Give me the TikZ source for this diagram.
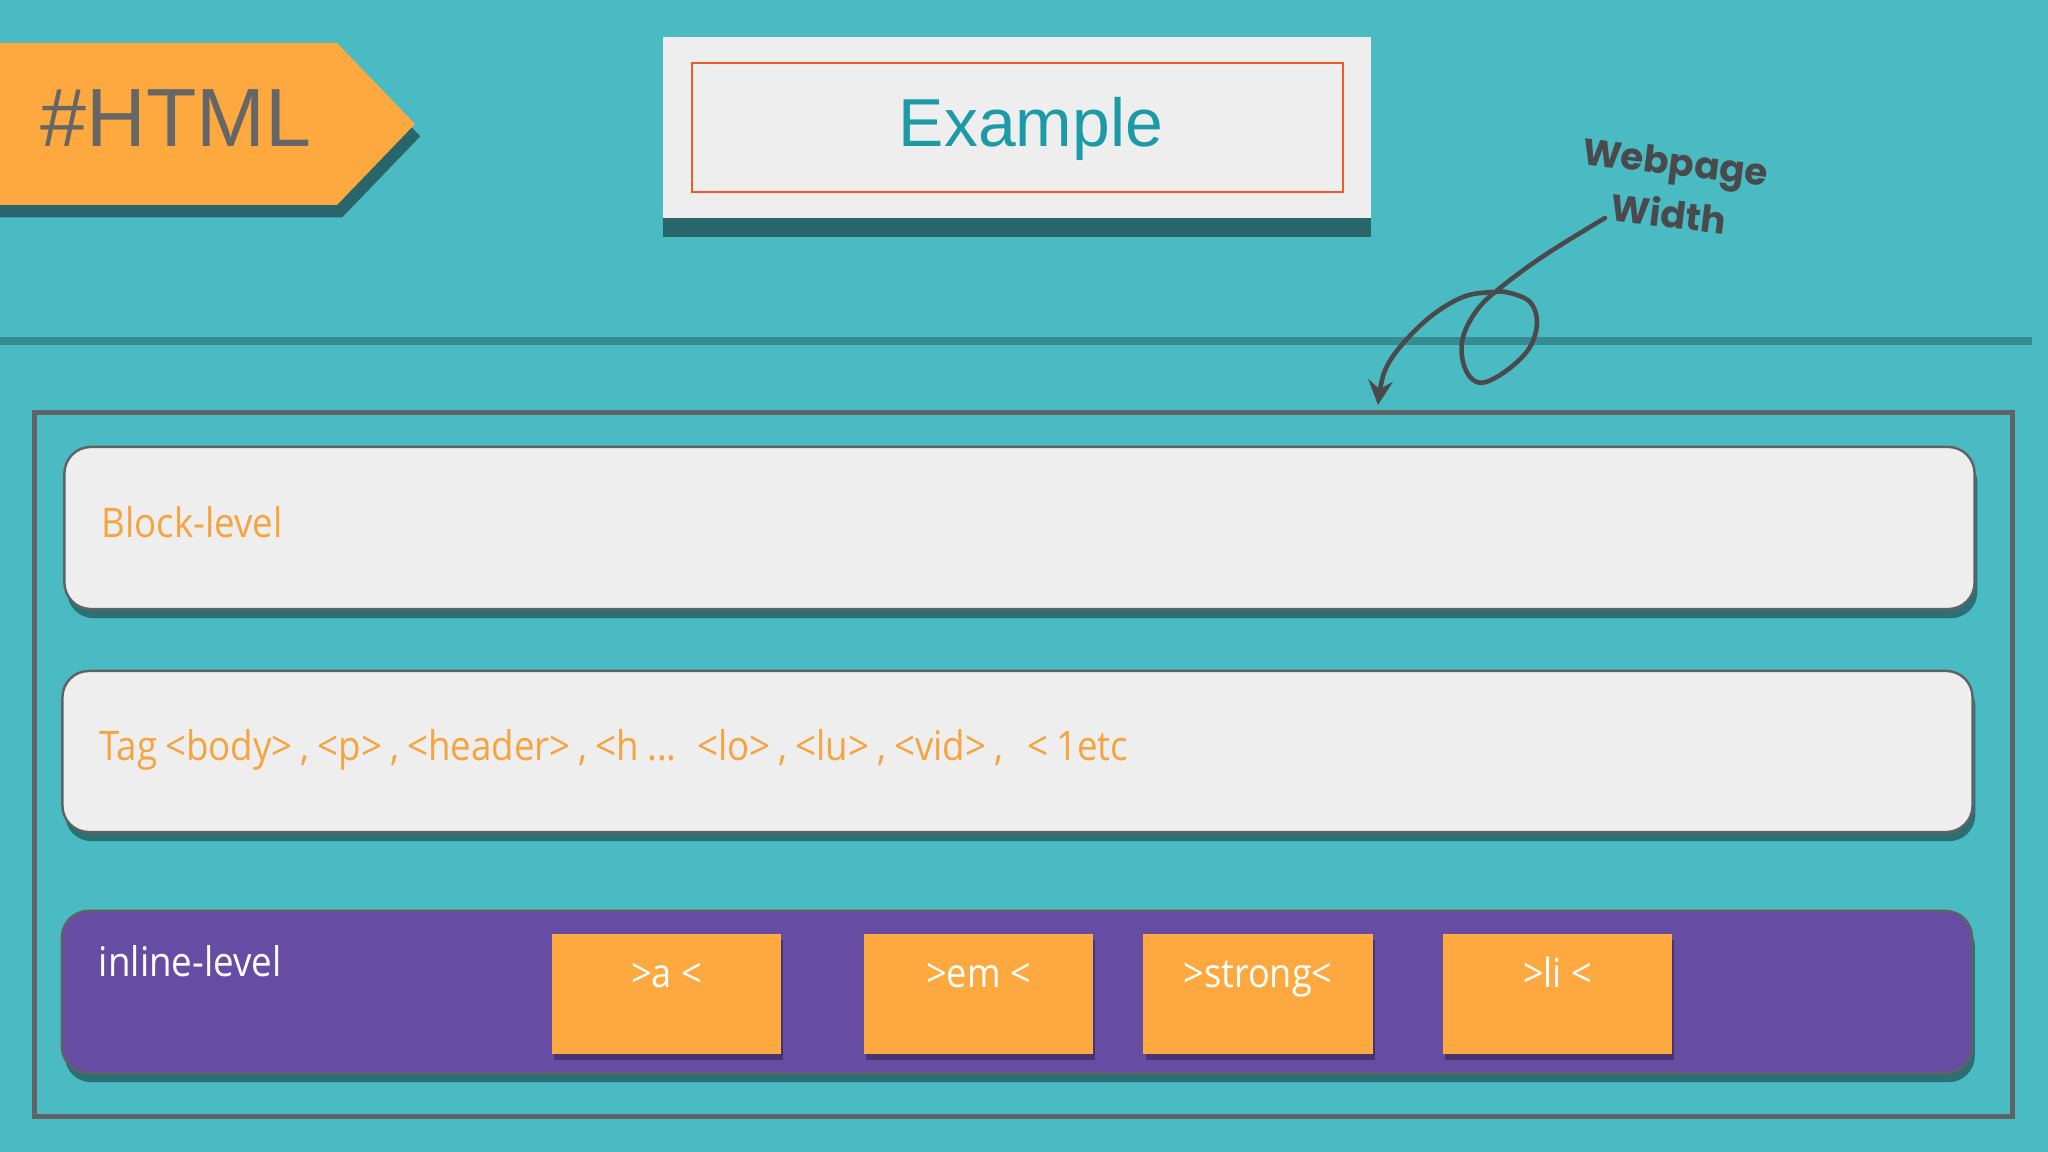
\documentclass[tikz,border=0pt]{standalone}
\usepackage{fontspec}
\setmainfont{Liberation Sans}
\newfontfamily\condfont[FakeStretch=0.9]{Open Sans}
\newfontfamily\handfont{Poppins}
\usetikzlibrary{arrows.meta,positioning,shadows}

\definecolor{bgteal}{HTML}{4ABAC3}
\definecolor{tagorange}{HTML}{FDA940}
\definecolor{txtorange}{HTML}{F5A43F}
\definecolor{boxgray}{HTML}{EFEEEF}
\definecolor{linegray}{HTML}{5E6466}
\definecolor{titleteal}{HTML}{1C9AA6}
\definecolor{redorange}{HTML}{F05A28}
\definecolor{inlinepurple}{HTML}{664DA3}
\definecolor{penink}{HTML}{4A4A4C}

\tikzset{
  levelbox/.style={rounded corners=7.5pt, draw=linegray, line width=0.7pt,
    minimum width=19.09cm, text width=18.35cm, inner xsep=0.37cm, inner ysep=0pt,
    align=left, font=\condfont\fontsize{11.6}{14}\selectfont,
    drop shadow={shadow xshift=0.8pt, shadow yshift=-2.6pt, opacity=.4, fill=black}},
  tagbox/.style={fill=tagorange, minimum width=2.29cm, inner sep=0pt,
    text height=0.54cm, text depth=0.66cm, text=white,
    font=\condfont\fontsize{11.4}{13}\selectfont,
    drop shadow={shadow xshift=0.6pt, shadow yshift=-1.6pt, opacity=.3, fill=black}},
  squiggle/.style={penink, line width=1.3pt, line cap=round,
    -{Stealth[length=7pt,width=7pt,inset=2.5pt]}}
}

\begin{document}
\begin{tikzpicture}[x=0.01cm,y=-0.01cm]
\useasboundingbox (0,0) rectangle (2048,1152);
\fill[bgteal] (0,0) rectangle (2048,1152);

% header
\fill[tagorange, drop shadow={shadow xshift=1.5pt, shadow yshift=-3.5pt, opacity=.45, fill=black}]
  (-30,43) -- (337,43) -- (415,124) -- (337,205) -- (-30,205) -- cycle;
\node[anchor=base west, inner sep=0pt, text=black!60,
  font=\fontsize{23.5}{28}\selectfont] (html) at (40,147) {\#HTML};

\node[fill=boxgray, minimum width=7.08cm, minimum height=1.81cm, inner sep=0pt,
  drop shadow={shadow xshift=0pt, shadow yshift=-5.5pt, opacity=.45, fill=black}] (card) at (1017,127.5) {};
\node[draw=redorange, line width=0.6pt, minimum width=6.51cm, minimum height=1.29cm,
  inner sep=0pt] (cardframe) at (1017.5,127.5) {};
\node[anchor=base, inner sep=0pt, text=titleteal,
  font=\fontsize{19.3}{23}\selectfont] (title) at (1031,147) {Example};

\draw[bgteal!75!black, line width=2.4pt] (0,341) -- (2032,341);

% webpage width note
\node[rotate=-7, align=center, text=penink, inner sep=0pt,
  font=\handfont\bfseries\fontsize{10.6}{15}\selectfont] (wlabel) at (1672,188) {Webpage\\Width};
\coordinate (wstart) at (1605,218);
\coordinate (wtip) at (1378,405);
\draw[squiggle] plot[smooth, tension=0.6] coordinates {(wstart) (1545,255) (1500,288)
  (1477,310) (1463,337) (1463,362) (1472,379) (1486,382) (1510,368) (1530,347)
  (1537,322) (1530,302) (1510,293) (1493,292) (1463,297) (1430,317) (1400,347)
  (1384,373) (wtip)};

% page frame
\node[draw=linegray, line width=1.4pt, minimum width=19.77cm, minimum height=7.03cm,
  inner sep=0pt] (page) at (1023.5,764.5) {};

\node[levelbox, fill=boxgray, text=txtorange, text height=0.9cm, text depth=0.72cm]
  (block) at (1019.5,528) {Block-level};
\node[levelbox, fill=boxgray, text=txtorange, text height=0.89cm, text depth=0.72cm]
  (tags) at (1017.5,751.5) {\spaceskip=0.195em plus 0.02em
  Tag <body> , <p> , <header> , <h ... <lo> , <lu> , <vid> , \ \ < 1etc};
\node[levelbox, fill=inlinepurple, text=white, text height=0.66cm, text depth=0.96cm]
  (inline) at (1017,992) {inline-level};

\node[tagbox] (ta) at (666.5,994) {>a <};
\node[tagbox] (tem) at (978.5,994) {>em <};
\node[tagbox] (tstrong) at (1258,994) {>strong<};
\node[tagbox] (tli) at (1557.5,994) {>li <};
\end{tikzpicture}
\end{document}
